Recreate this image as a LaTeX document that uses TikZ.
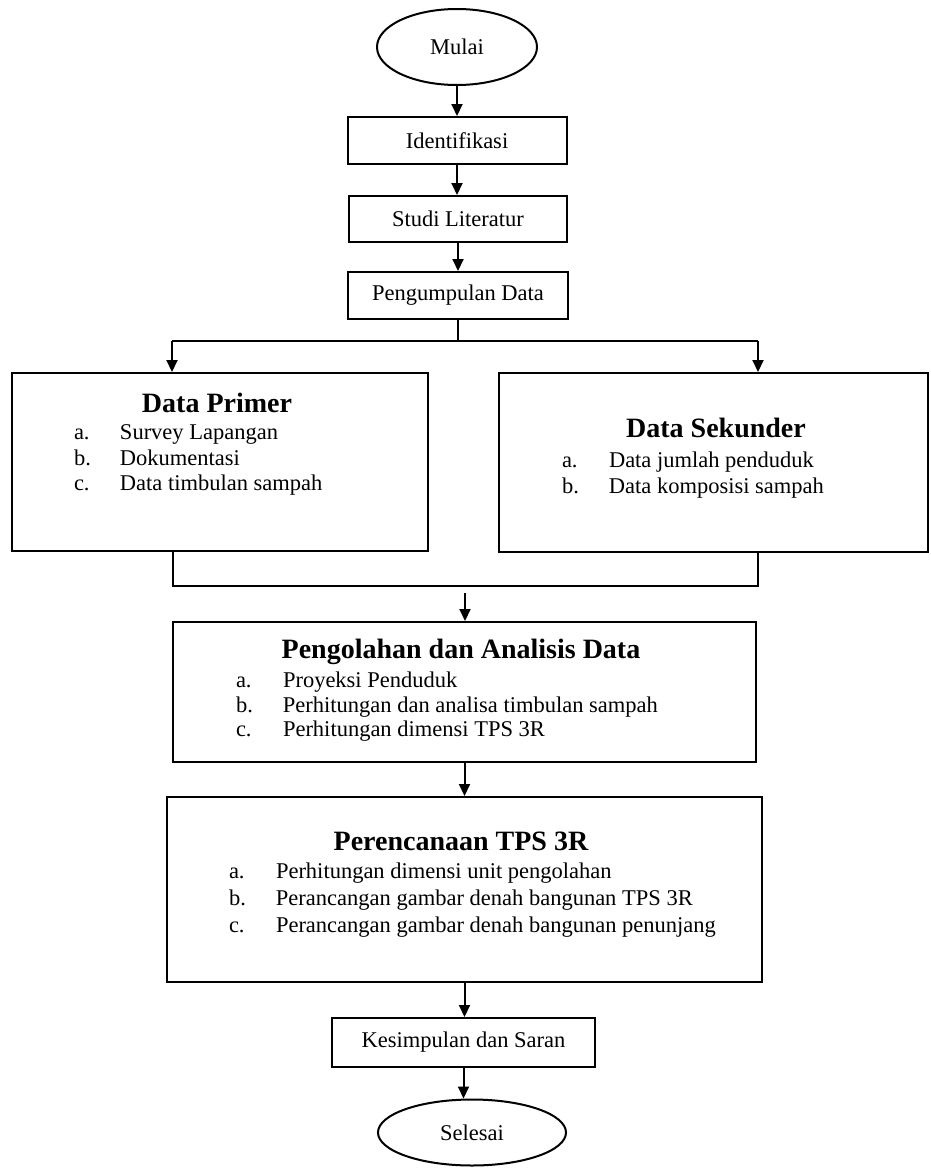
\documentclass[tikz,border=0pt]{standalone}
\usepackage{fontspec}
\setmainfont{Liberation Serif}
\usetikzlibrary{arrows.meta,shapes.geometric}
\begin{document}
\begin{tikzpicture}[x=1pt,y=-1pt,
  line width=2pt,
  box/.style={draw, rectangle, inner sep=0pt, font=\fontsize{22.5}{25}\selectfont},
  oval/.style={draw, ellipse, inner sep=0pt, font=\fontsize{22.5}{25}\selectfont},
  ttl/.style={inner sep=0pt, anchor=base, font=\fontsize{28}{30}\selectfont\bfseries},
  itm/.style={inner sep=0pt, anchor=base west, font=\fontsize{22.5}{25}\selectfont},
  arr/.style={-{Triangle[length=12pt,width=11pt]}}]
\useasboundingbox (0,0) rectangle (930,1173);
\fill[white] (0,0) rectangle (930,1173);
% main nodes
\node[oval, minimum width=160pt, minimum height=76pt] (mulai) at (457,47) {Mulai};
\node[box, minimum width=219pt, minimum height=47pt] (iden) at (457,140.5) {Identifikasi};
\node[box, minimum width=218pt, minimum height=46pt] (studi) at (458,219) {Studi Literatur};
\node[box, minimum width=220pt, minimum height=47pt] (kumpul) at (458,295.5) {Pengumpulan Data};
\node[box, minimum width=416pt, minimum height=178pt] (primer) at (220,462) {};
\node[box, minimum width=429pt, minimum height=179pt] (sekunder) at (713.5,462.5) {};
\node[box, minimum width=583pt, minimum height=140pt] (olah) at (464.5,692) {};
\node[box, minimum width=595pt, minimum height=185pt] (rencana) at (464.5,889.5) {};
\node[box, minimum width=263pt, minimum height=49pt] (simpul) at (463.5,1042.5) {Kesimpulan dan Saran};
\node[oval, minimum width=188pt, minimum height=66pt] (selesai) at (472,1132.5) {Selesai};
% texts: Data Primer
\node[ttl] (tprimer) at (217,412) {Data Primer};
\node[itm] (p1) at (73,439) {\makebox[46pt][l]{a.}Survey Lapangan};
\node[itm] (p2) at (73,465) {\makebox[46pt][l]{b.}Dokumentasi};
\node[itm] (p3) at (73,490) {\makebox[46pt][l]{c.}Data timbulan sampah};
% Data Sekunder
\node[ttl] (tsek) at (716,437) {Data Sekunder};
\node[itm] (s1) at (561,467) {\makebox[47pt][l]{a.}Data jumlah penduduk};
\node[itm] (s2) at (561,493) {\makebox[47pt][l]{b.}Data komposisi sampah};
% Pengolahan
\node[ttl] (tolah) at (461,658) {Pengolahan dan Analisis Data};
\node[itm] (o1) at (235,687) {\makebox[47pt][l]{a.}Proyeksi Penduduk};
\node[itm] (o2) at (235,712) {\makebox[47pt][l]{b.}Perhitungan dan analisa timbulan sampah};
\node[itm] (o3) at (235,736) {\makebox[47pt][l]{c.}Perhitungan dimensi TPS 3R};
% Perencanaan
\node[ttl] (trenc) at (461,850) {Perencanaan TPS 3R};
\node[itm] (r1) at (228,878) {\makebox[47pt][l]{a.}Perhitungan dimensi unit pengolahan};
\node[itm] (r2) at (228,905) {\makebox[47pt][l]{b.}Perancangan gambar denah bangunan TPS 3R};
\node[itm] (r3) at (228,932) {\makebox[47pt][l]{c.}Perancangan gambar denah bangunan penunjang};
% coordinates for branches
\coordinate (sl) at (172,341);
\coordinate (sr) at (758,341);
\coordinate (ml) at (173,586);
\coordinate (mr) at (758,586);
\coordinate (mo) at (465,593);
% connectors
\draw[arr] (mulai.south) -- (mulai.south |- iden.north);
\draw[arr] (iden.south) -- (iden.south |- studi.north);
\draw[arr] (studi.south) -- (studi.south |- kumpul.north);
\draw (kumpul.south) -- (kumpul.south |- sl);
\draw (sl) -- (sr);
\draw[arr] (sl) -- (sl |- primer.north);
\draw[arr] (sr) -- (sr |- sekunder.north);
\draw (ml |- primer.south) -- (ml) -- (mr) -- (mr |- sekunder.south);
\draw[arr] (mo) -- (mo |- olah.north);
\draw[arr] (olah.south) -- (olah.south |- rencana.north);
\draw[arr] (rencana.south) -- (rencana.south |- simpul.north);
\draw[arr] (simpul.south) -- (simpul.south |- selesai.north);
\end{tikzpicture}
\end{document}
